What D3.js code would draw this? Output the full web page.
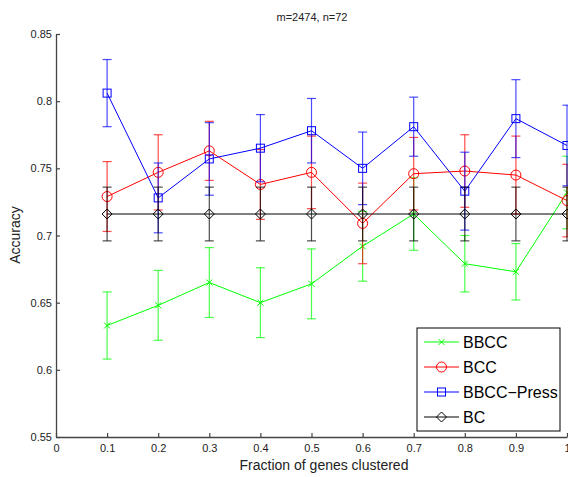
<!DOCTYPE html>
<html>
<head>
<meta charset="utf-8">
<script src="https://cdn.jsdelivr.net/npm/d3@7"></script>
<style>
  body { margin: 0; background: #fff; }
  svg { display: block; font-family: "Liberation Sans", Arial, sans-serif; }
</style>
</head>
<body>
<svg id="chart" width="568" height="477"></svg>
<script>
// fractions of genes clustered
const fractions = [0.1, 0.2, 0.3, 0.4, 0.5, 0.6, 0.7, 0.8, 0.9, 1.0];

// mean accuracy per method
const bbcc      = [0.633, 0.648, 0.665, 0.650, 0.664, 0.692, 0.716, 0.679, 0.673, 0.732];
const bcc       = [0.729, 0.747, 0.763, 0.738, 0.747, 0.709, 0.746, 0.748, 0.745, 0.726];
const bbccPress = [0.806, 0.728, 0.757, 0.765, 0.778, 0.750, 0.781, 0.733, 0.787, 0.767];
const bc        = [0.716, 0.716, 0.716, 0.716, 0.716, 0.716, 0.716, 0.716, 0.716, 0.716];

// error bar half-widths
const bbccErr      = [0.025, 0.026, 0.026, 0.026, 0.026, 0.026, 0.027, 0.021, 0.021, 0.027];
const bccErr       = [0.026, 0.028, 0.022, 0.026, 0.027, 0.030, 0.027, 0.027, 0.029, 0.027];
const bbccPressErr = [0.025, 0.026, 0.027, 0.025, 0.024, 0.027, 0.022, 0.029, 0.029, 0.030];
const bcErr        = [0.020, 0.020, 0.020, 0.020, 0.020, 0.020, 0.020, 0.020, 0.020, 0.020];

const xTicks = [0, 0.1, 0.2, 0.3, 0.4, 0.5, 0.6, 0.7, 0.8, 0.9, 1];
const yTicks = [0.55, 0.6, 0.65, 0.7, 0.75, 0.8, 0.85];

const series = [
  { name: "BBCC", values: bbcc, err: bbccErr, color: "#00ff00", marker: "x" },
  { name: "BCC", values: bcc, err: bccErr, color: "#ff0000", marker: "circle" },
  { name: "BBCC\u2212Press", values: bbccPress, err: bbccPressErr, color: "#0000ff", marker: "square" },
  { name: "BC", values: bc, err: bcErr, color: "#000000", marker: "diamond" }
];

const svg = d3.select("#chart");
const margin = { left: 56, right: 1, top: 34, bottom: 40 };
const W = 568, H = 477;

const x = d3.scaleLinear().domain([0, 1]).range([margin.left, W - margin.right]);
const y = d3.scaleLinear().domain([0.55, 0.85]).range([H - margin.bottom, margin.top]);

// axes (ticks inside, MATLAB style)
const axisColor = "#444";
const xAxis = svg.append("g")
  .attr("transform", `translate(0,${y(0.55)})`)
  .call(d3.axisBottom(x).tickValues(xTicks).tickSizeInner(-4).tickSizeOuter(0)
    .tickPadding(7).tickFormat(d => d3.format("")(+d.toFixed(2))));
const yAxis = svg.append("g")
  .attr("transform", `translate(${x(0)},0)`)
  .call(d3.axisLeft(y).tickValues(yTicks).tickSizeInner(-4).tickSizeOuter(0)
    .tickPadding(4).tickFormat(d => d3.format("")(+d.toFixed(2))));

[xAxis, yAxis].forEach(g => {
  g.select(".domain").attr("stroke", axisColor).attr("stroke-width", 1.3);
  g.selectAll(".tick line").attr("stroke", axisColor).attr("stroke-width", 1.2);
  g.selectAll(".tick text").attr("fill", "#222").style("font-size", "11px")
    .style("font-family", "Liberation Sans, Arial, sans-serif");
});

function drawMarker(g, type, color) {
  if (type === "x") {
    g.append("path").attr("d", "M-3,-3L3,3M-3,3L3,-3")
      .attr("stroke", color).attr("stroke-width", 1).attr("fill", "none");
  } else if (type === "circle") {
    g.append("circle").attr("r", 5)
      .attr("stroke", color).attr("fill", "none").attr("stroke-width", 1);
  } else if (type === "square") {
    g.append("rect").attr("x", -4).attr("y", -4).attr("width", 8).attr("height", 8)
      .attr("stroke", color).attr("fill", "none").attr("stroke-width", 1);
  } else if (type === "diamond") {
    g.append("path").attr("d", "M0,-5L5,0L0,5L-5,0Z")
      .attr("stroke", color).attr("fill", "none").attr("stroke-width", 1);
  }
}

const line = d3.line().x(d => x(d[0])).y(d => y(d[1]));
const capW = 4.5;

series.forEach(s => {
  const g = svg.append("g");
  const pts = fractions.map((f, i) => [f, s.values[i], s.err[i]]);

  // error bars
  const eb = g.append("g").attr("stroke", s.color).attr("stroke-opacity", 0.7).attr("stroke-width", 1.2);
  pts.forEach(p => {
    const cx = x(p[0]);
    eb.append("line").attr("x1", cx).attr("x2", cx).attr("y1", y(p[1] - p[2])).attr("y2", y(p[1] + p[2]));
    eb.append("line").attr("x1", cx - capW).attr("x2", cx + capW).attr("y1", y(p[1] - p[2])).attr("y2", y(p[1] - p[2]));
    eb.append("line").attr("x1", cx - capW).attr("x2", cx + capW).attr("y1", y(p[1] + p[2])).attr("y2", y(p[1] + p[2]));
  });

  g.append("path").datum(pts).attr("d", line)
    .attr("fill", "none").attr("stroke", s.color).attr("stroke-width", 1);

  pts.forEach(p => {
    drawMarker(g.append("g").attr("transform", `translate(${x(p[0])},${y(p[1])})`), s.marker, s.color);
  });
});

// title and labels
svg.append("text").attr("x", 312).attr("y", 21).attr("text-anchor", "middle")
  .style("font-size", "11px").attr("fill", "#222").text("m=2474, n=72");
svg.append("text").attr("x", 324).attr("y", 470).attr("text-anchor", "middle")
  .style("font-size", "14px").attr("fill", "#222").text("Fraction of genes clustered");
svg.append("text").attr("transform", "translate(20,235) rotate(-90)").attr("text-anchor", "middle")
  .style("font-size", "14px").attr("fill", "#222").text("Accuracy");

// legend
const legend = svg.append("g").attr("transform", "translate(417,328)");
legend.append("rect").attr("width", 143).attr("height", 103)
  .attr("fill", "#fff").attr("stroke", "#000").attr("stroke-width", 1);
series.forEach((s, i) => {
  const ly = 14 + i * 25;
  legend.append("line").attr("x1", 7).attr("x2", 42).attr("y1", ly).attr("y2", ly)
    .attr("stroke", s.color).attr("stroke-width", 1);
  drawMarker(legend.append("g").attr("transform", `translate(24.5,${ly})`), s.marker, s.color);
  legend.append("text").attr("x", 46).attr("y", ly + 6)
    .style("font-size", "16px").attr("fill", "#000").text(s.name);
});
</script>
</body>
</html>
